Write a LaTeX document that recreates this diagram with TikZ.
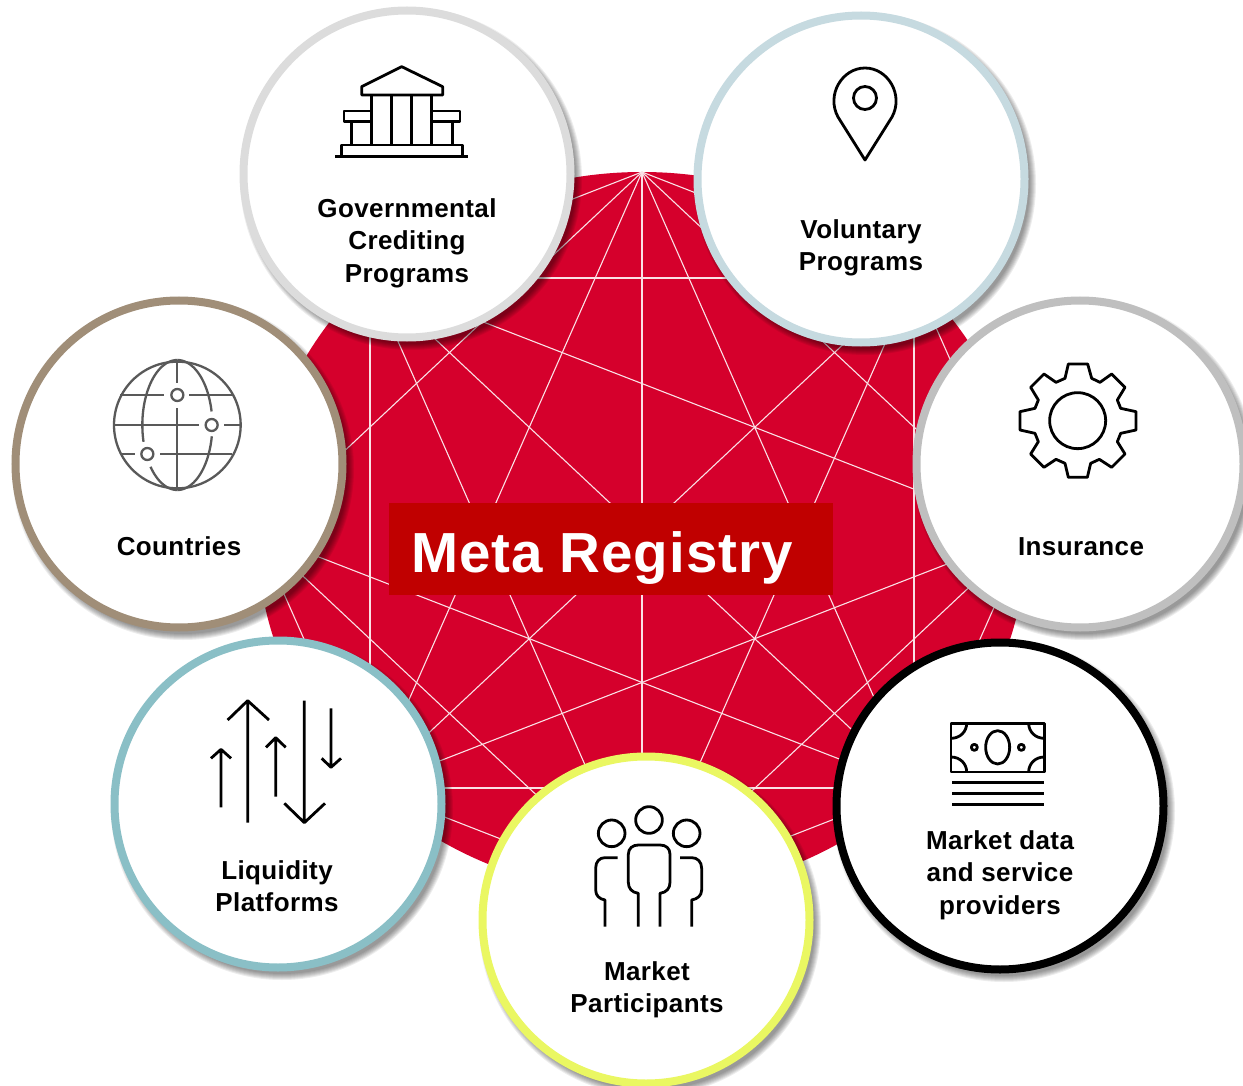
\documentclass[tikz,border=0pt]{standalone}
\usepackage{fontspec}
\setmainfont{Liberation Sans}
\newfontfamily\lblfont[LetterSpace=1.5]{Liberation Sans}
\newfontfamily\titlefont[LetterSpace=1.8]{Liberation Sans}
\definecolor{webred}{RGB}{213,0,44}
\definecolor{boxred}{RGB}{192,0,0}
\definecolor{webline}{RGB}{250,225,230}
\definecolor{cgov}{RGB}{220,220,220}
\definecolor{cvol}{RGB}{198,218,224}
\definecolor{cins}{RGB}{191,191,191}
\definecolor{ccou}{RGB}{160,142,120}
\definecolor{cliq}{RGB}{138,191,198}
\definecolor{cpar}{RGB}{234,247,98}
\definecolor{globeg}{RGB}{89,89,89}
\tikzset{
  ring/.style={circle,fill=white,line width=8pt,minimum size=327pt,inner sep=0pt,outer sep=0pt},
  web/.style={webline,line width=1.1pt},
  lbl/.style={align=center,inner sep=0pt,font=\lblfont\fontsize{26}{32.5}\selectfont\bfseries},
  icon/.style={black,line width=2.8pt,line join=round,line cap=butt},
  globeline/.style={globeg,line width=2.3pt},
}
\newcommand{\ringshadow}[2]{%
  \foreach \r in {171,170,169,168,167,166,165}
    \fill[black,opacity=0.07] (#1+4,#2+5) circle[radius=\r];}
\begin{document}
\begin{tikzpicture}[x=1pt,y=-1pt]
\useasboundingbox (0,0) rectangle (1243,1086);
\clip (0,0) rectangle (1243,1086);
% central web
\fill[webred] (642,533) ellipse[x radius=385,y radius=361];
\coordinate (T) at (642,172);
\coordinate (UR) at (914,278);
\coordinate (R) at (1027,533);
\coordinate (LR) at (914,788);
\coordinate (B) at (642,894);
\coordinate (LL) at (370,788);
\coordinate (L) at (257,533);
\coordinate (UL) at (370,278);
\foreach \a/\b in {T/UR,T/R,T/LR,T/B,T/LL,T/L,T/UL,
  UR/R,UR/LR,UR/B,UR/LL,UR/UL,
  R/LR,R/B,R/LL,R/UL,
  LR/B,LR/LL,LR/L,LR/UL,
  B/LL,B/L,B/UL,
  LL/L,LL/UL}
  \draw[web] (\a) -- (\b);
\node[fill=boxred,minimum width=444pt,minimum height=92pt,inner sep=0pt,anchor=north west] (box) at (389,503) {};
\node[anchor=base west,inner sep=0pt,text=white,font=\titlefont\fontsize{56.5}{60}\selectfont\bfseries] (title) at (411,572) {Meta Registry};
% shadows
\ringshadow{407}{174}
\ringshadow{861}{179}
\ringshadow{1080}{464}
\ringshadow{179}{464}
\ringshadow{278}{804}
\ringshadow{646}{920}
\ringshadow{1000}{806}
% rings
\node[ring,draw=cgov] (gov) at (407,174) {};
\node[ring,draw=cvol] (vol) at (861,179) {};
\node[ring,draw=cins] (ins) at (1080,464) {};
\node[ring,draw=ccou] (cou) at (179,464) {};
\node[ring,draw=cliq] (liq) at (278,804) {};
\node[ring,draw=cpar] (par) at (646,920) {};
\node[ring,draw=black] (dat) at (1000,806) {};
% labels
\node[lbl] (tgov) at (407,243) {Governmental\\Crediting\\Programs};
\node[lbl] (tvol) at (861,248) {Voluntary\\Programs};
\node[lbl] (tins) at (1081,547) {Insurance};
\node[lbl] (tcou) at (179,546) {Countries};
\node[lbl] (tliq) at (277,886) {Liquidity\\Platforms};
\node[lbl] (tpar) at (647,990) {Market\\Participants};
\node[lbl] (tdat) at (1000,875) {Market data\\and service\\providers};
% bank icon
\begin{scope}[shift={(320,50)},scale=1/3,icon]
\draw (125,110) -- (245,50) -- (368,110) -- (368,135) -- (125,135) -- cycle;
\draw (155,135) -- (155,285) (215,135) -- (215,285) (275,135) -- (275,285) (335,135) -- (335,285);
\draw (155,183) -- (72,183) -- (72,215) -- (155,215);
\draw (335,183) -- (420,183) -- (420,215) -- (335,215);
\draw (95,215) -- (95,285) (398,215) -- (398,285);
\draw (65,320) -- (65,285) -- (428,285) -- (428,320);
\draw (45,320) -- (445,320);
\end{scope}
% pin icon
\draw[icon] (865,160) -- (838,117) .. controls (826,95) and (842,68) .. (865,68) .. controls (888,68) and (904,95) .. (892,117) -- cycle;
\draw[icon] (865,98) circle[radius=11.5];
% gear icon
\begin{scope}[shift={(1000,350)},scale=1/3,icon]
\draw (205,42) -- (263,42) -- (275,85) -- (300,97) -- (335,72) -- (375,112) -- (352,150) -- (362,175) -- (408,185) -- (408,240) -- (362,250) -- (352,275) -- (375,312) -- (335,352) -- (298,328) -- (272,340) -- (262,382) -- (205,382) -- (195,340) -- (168,328) -- (132,352) -- (92,312) -- (115,275) -- (105,250) -- (60,240) -- (60,185) -- (105,175) -- (115,150) -- (92,112) -- (132,72) -- (168,97) -- (195,85) -- cycle;
\draw (233,212) circle[radius=84];
\end{scope}
% globe icon
\begin{scope}[shift={(100,350)},scale=1/3,globeline]
\draw (232,225) circle[radius=190];
\draw (232,30) -- (232,100) (232,175) -- (232,420);
\draw (60,135) -- (193,135) (268,135) -- (400,135);
\draw (40,225) -- (297,225) (372,225) -- (425,225);
\draw (65,312) -- (105,312) (180,312) -- (395,312);
\draw plot[smooth,samples=30,domain=90:-15,variable=\t] ({232-105*cos(\t)},{225-195*sin(\t)});
\draw plot[smooth,samples=20,domain=-40:-90,variable=\t] ({232-105*cos(\t)},{225-195*sin(\t)});
\draw plot[smooth,samples=30,domain=90:12,variable=\t] ({232+105*cos(\t)},{225-195*sin(\t)});
\draw plot[smooth,samples=30,domain=-10:-90,variable=\t] ({232+105*cos(\t)},{225-195*sin(\t)});
\draw (232,135) circle[radius=18];
\draw (335,225) circle[radius=18];
\draw (142,312) circle[radius=18];
\end{scope}
% arrows icon
\begin{scope}[shift={(195,690)},scale=1/3,icon]
\draw (78,352) -- (78,178) (48,205) -- (78,178) -- (108,205);
\draw (158,398) -- (158,32) (98,90) -- (158,32) -- (222,90);
\draw (242,320) -- (242,143) (213,172) -- (242,143) -- (272,172);
\draw (328,32) -- (328,398) (268,340) -- (328,398) -- (390,340);
\draw (408,55) -- (408,232) (380,205) -- (408,232) -- (438,205);
\end{scope}
% people icon
\begin{scope}[shift={(580,795)},scale=1/3,icon]
\draw (207,75) circle[radius=40];
\draw (95,115) circle[radius=40];
\draw (320,115) circle[radius=40];
\draw (175,395) -- (175,295) .. controls (155,292) and (145,280) .. (145,262) -- (145,178) .. controls (145,160) and (158,150) .. (175,150) -- (240,150) .. controls (258,150) and (270,160) .. (270,178) -- (270,262) .. controls (270,280) and (260,292) .. (240,295) -- (240,395);
\draw (75,395) -- (75,315) .. controls (58,312) and (47,302) .. (47,285) -- (47,220) .. controls (47,200) and (58,188) .. (75,188) -- (113,188);
\draw (335,395) -- (335,315) .. controls (352,312) and (365,302) .. (365,285) -- (365,220) .. controls (365,200) and (352,188) .. (335,188) -- (300,188);
\end{scope}
% money icon
\begin{scope}[shift={(935,710)},scale=1/3,icon]
\draw (48,40) rectangle (328,186);
\draw (48,85) .. controls (75,85) and (95,65) .. (95,40);
\draw (328,85) .. controls (301,85) and (281,65) .. (281,40);
\draw (48,141) .. controls (75,141) and (95,161) .. (95,186);
\draw (328,141) .. controls (301,141) and (281,161) .. (281,186);
\draw (188,112) ellipse[x radius=36,y radius=50];
\draw (118,112) circle[radius=9];
\draw (259,112) circle[radius=9];
\draw (52,218) -- (326,218) (52,250) -- (326,250) (52,283) -- (326,283);
\end{scope}
\end{tikzpicture}
\end{document}
